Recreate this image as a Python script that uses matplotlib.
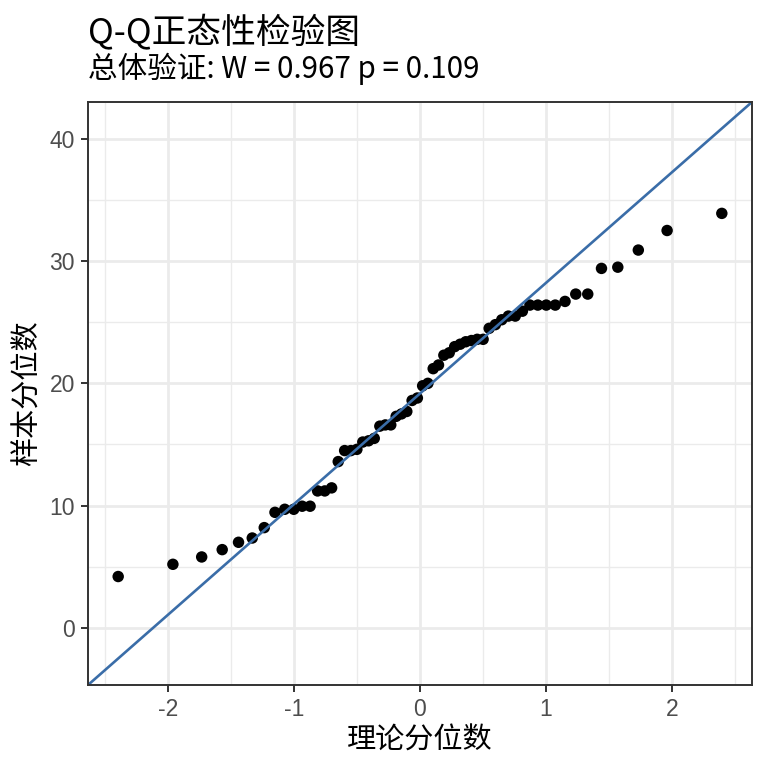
import numpy as np
import matplotlib
matplotlib.use("Agg")
import matplotlib.pyplot as plt
from statistics import NormalDist

# ---- data (sorted sample values) ----
sample_values = [
    4.2, 5.2, 5.8, 6.4, 7.0, 7.35, 8.2, 9.45, 9.7, 9.7,
    9.95, 9.95, 11.2, 11.2, 11.45, 13.6, 14.5, 14.5, 14.6, 15.2,
    15.3, 15.5, 16.5, 16.6, 16.6, 17.3, 17.5, 17.7, 18.6, 18.8,
    19.8, 20.0, 21.2, 21.5, 22.3, 22.5, 23.0, 23.2, 23.4, 23.5,
    23.6, 23.6, 24.5, 24.8, 25.2, 25.5, 25.5, 25.9, 26.4, 26.4,
    26.4, 26.4, 26.7, 27.3, 27.3, 29.4, 29.5, 30.9, 32.5, 33.9,
]
x_ticks = [-2, -1, 0, 1, 2]
y_ticks = [0, 10, 20, 30, 40]
title = "Q-Q正态性检验图"
subtitle = "总体验证: W = 0.967 p = 0.109"
x_label = "理论分位数"
y_label = "样本分位数"

# ---- statistics: theoretical quantiles (ppoints) and qqline ----
y = np.sort(np.array(sample_values))
n = len(y)
nd = NormalDist()
theo = np.array([nd.inv_cdf((i - 0.5) / n) for i in range(1, n + 1)])
q1, q3 = np.quantile(y, [0.25, 0.75])
z1, z3 = nd.inv_cdf(0.25), nd.inv_cdf(0.75)
slope = (q3 - q1) / (z3 - z1)
intercept = q1 - slope * z1

# limits like ggplot (5% expansion)
xmin, xmax = theo.min(), theo.max()
xr = xmax - xmin
xlim = (xmin - 0.05 * xr, xmax + 0.05 * xr)
line_y = intercept + slope * np.array([xmin, xmax])
ymin = min(y.min(), line_y.min())
ymax = max(y.max(), line_y.max())
yr = ymax - ymin
ylim = (ymin - 0.05 * yr, ymax + 0.05 * yr)

cjk = ["Noto Sans CJK SC", "DejaVu Sans"]
tickfont = ["Liberation Sans", "DejaVu Sans"]

fig = plt.figure(figsize=(7.68, 7.68), dpi=100)
ax = fig.add_axes([88 / 768, 1 - 685 / 768, (752 - 88) / 768, (685 - 102) / 768])

ax.set_xlim(*xlim)
ax.set_ylim(*ylim)

# grid
minor_x = [v + 0.5 for v in range(-3, 3)]
minor_y = [v + 5 for v in range(-10, 50, 10)]
for v in minor_x:
    ax.axvline(v, color="#EBEBEB", lw=1.0, zorder=0)
for v in minor_y:
    ax.axhline(v, color="#EBEBEB", lw=1.0, zorder=0)
for v in x_ticks:
    ax.axvline(v, color="#EBEBEB", lw=2.0, zorder=0)
for v in y_ticks:
    ax.axhline(v, color="#EBEBEB", lw=2.0, zorder=0)

ax.scatter(theo, y, s=68, color="black", edgecolors="none", zorder=3)
xx = np.array(xlim)
ax.plot(xx, intercept + slope * xx, color="#3A6DA8", lw=1.9, zorder=4, clip_on=True)

ax.set_xticks(x_ticks)
ax.set_yticks(y_ticks)
ax.set_xticklabels([str(v) for v in x_ticks], family=tickfont, fontsize=16.5, color="#4D4D4D")
ax.set_yticklabels([str(v) for v in y_ticks], family=tickfont, fontsize=16.5, color="#4D4D4D")
ax.tick_params(length=5, width=1.4, color="#333333", pad=4.5)
for sp in ax.spines.values():
    sp.set_color("#333333")
    sp.set_linewidth(1.4)
    sp.set_zorder(5)

ax.set_xlabel(x_label, family=cjk, fontsize=21, labelpad=3)
ax.set_ylabel(y_label, family=cjk, fontsize=21, labelpad=5)

fig.text(88 / 768, 1 - 42 / 768, title, family=cjk, fontsize=25, ha="left", va="baseline")
fig.text(88 / 768, 1 - 78 / 768, subtitle, family=cjk, fontsize=21.3, ha="left", va="baseline")

fig.savefig("out.png", dpi=100, facecolor="white")
